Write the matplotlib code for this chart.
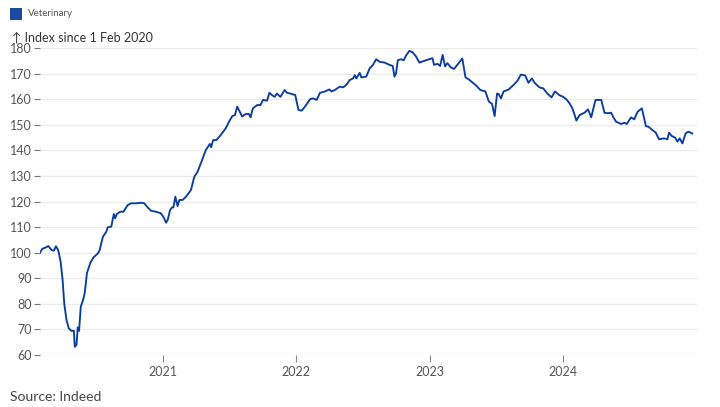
import matplotlib
matplotlib.use("Agg")
from matplotlib import pyplot as plt
import matplotlib.dates as mdates
import pandas as pd
import numpy as np

plt.rcParams['font.family'] = ['Lato', 'DejaVu Sans']

# decimal years, with index values (1 Feb 2020 = 100)
years = [
    2020.085, 2020.102, 2020.135, 2020.147, 2020.172, 2020.189, 2020.204, 2020.221,
    2020.239, 2020.254, 2020.266, 2020.283, 2020.300, 2020.321, 2020.338, 2020.345,
    2020.358, 2020.367, 2020.377, 2020.390, 2020.407, 2020.419, 2020.436, 2020.462,
    2020.486, 2020.518, 2020.531, 2020.555, 2020.581, 2020.592, 2020.618, 2020.637,
    2020.647, 2020.659, 2020.685, 2020.709, 2020.741, 2020.766, 2020.803, 2020.841,
    2020.865, 2020.890, 2020.915, 2020.952, 2020.989, 2021.006, 2021.026, 2021.038,
    2021.056, 2021.071, 2021.081, 2021.095, 2021.112, 2021.125, 2021.150, 2021.175,
    2021.194, 2021.212, 2021.237, 2021.261, 2021.286, 2021.323, 2021.353, 2021.363,
    2021.378, 2021.402, 2021.435, 2021.472, 2021.497, 2021.521, 2021.541, 2021.558,
    2021.595, 2021.621, 2021.645, 2021.658, 2021.675, 2021.707, 2021.732, 2021.751,
    2021.781, 2021.799, 2021.818, 2021.838, 2021.855, 2021.881, 2021.913, 2021.930,
    2021.955, 2021.992, 2022.017, 2022.041, 2022.066, 2022.104, 2022.128, 2022.153,
    2022.178, 2022.215, 2022.247, 2022.264, 2022.289, 2022.326, 2022.351, 2022.375,
    2022.401, 2022.425, 2022.438, 2022.450, 2022.475, 2022.487, 2022.524, 2022.549,
    2022.574, 2022.598, 2022.624, 2022.661, 2022.698, 2022.722, 2022.735, 2022.747,
    2022.760, 2022.784, 2022.804, 2022.821, 2022.847, 2022.871, 2022.896, 2022.921,
    2022.970, 2023.020, 2023.032, 2023.057, 2023.077, 2023.096, 2023.114, 2023.131,
    2023.156, 2023.181, 2023.205, 2023.243, 2023.267, 2023.292, 2023.341, 2023.378,
    2023.416, 2023.441, 2023.465, 2023.485, 2023.503, 2023.515, 2023.532, 2023.552,
    2023.590, 2023.627, 2023.656, 2023.681, 2023.713, 2023.738, 2023.763, 2023.787,
    2023.820, 2023.849, 2023.879, 2023.911, 2023.936, 2023.968, 2023.998, 2024.023,
    2024.047, 2024.067, 2024.084, 2024.097, 2024.121, 2024.158, 2024.184, 2024.208,
    2024.240, 2024.283, 2024.307, 2024.332, 2024.357, 2024.374, 2024.394, 2024.431,
    2024.456, 2024.474, 2024.506, 2024.530, 2024.555, 2024.587, 2024.617, 2024.637,
    2024.671, 2024.691, 2024.716, 2024.753, 2024.778, 2024.790, 2024.810, 2024.835,
    2024.853, 2024.870, 2024.890, 2024.914, 2024.934, 2024.964,
]
veterinary = [
    100, 101.5, 102.2, 102.6, 101, 100.8, 102.5, 101,
    96.5, 89.3, 80.2, 73.7, 70.4, 69.4, 69.5, 63.2,
    64, 70.8, 69.4, 78.9, 81.5, 84.1, 92, 96.1,
    98.2, 99.7, 101, 106.2, 108.2, 109.9, 110.2, 115.1,
    113.4, 115.1, 116, 116, 118.6, 119.3, 119.3, 119.5,
    119.3, 117.7, 116.4, 116, 115.4, 114, 111.7, 112.8,
    116.7, 117.7, 117.7, 121.9, 118.2, 120.6, 120.6, 121.9,
    123.2, 124.5, 129.7, 131.6, 134.9, 140.1, 142.5, 141.2,
    144, 144, 146, 148.6, 151.2, 153.4, 153.8, 157.1,
    153.2, 154.2, 154.2, 152.9, 156.4, 157.7, 157.7, 159.7,
    159.4, 162.5, 161.6, 160.9, 162.2, 160.9, 163.6, 162.5,
    162.2, 161.6, 155.8, 155.5, 157.1, 160, 160.3, 159.7,
    162.5, 163, 163.8, 163, 163.6, 164.9, 164.6, 165.6,
    167.5, 168.1, 169.4, 168.1, 170.3, 168.5, 168.8, 172,
    173.4, 175.6, 174.6, 174.3, 173.4, 173, 168.8, 170.1,
    175.2, 175.6, 175.2, 177, 178.9, 178.3, 176.7, 174.3,
    175.2, 176, 173.4, 173.8, 173, 177.3, 172.8, 174.1,
    172.5, 171.8, 173.4, 175.9, 168.5, 167.7, 165.6, 163.6,
    163, 159.1, 158.2, 153.4, 162.2, 162, 160.3, 163,
    163.8, 165.6, 167.2, 169.6, 169.3, 166.4, 168.1, 166.2,
    164.6, 164.2, 162.2, 160.7, 163, 161.6, 160.9, 159.9,
    158.3, 156.4, 153.8, 151.6, 153.8, 154.7, 156, 152.9,
    159.7, 159.7, 154.7, 154.5, 154.7, 152.9, 151.2, 150.3,
    150.8, 150.3, 152.9, 152.1, 155.1, 156.4, 149.5, 149.2,
    147.7, 146.9, 144.3, 144.7, 144.3, 146.9, 145.6, 145,
    143.4, 144.7, 142.7, 146.6, 147.3, 146.6,
]
y_ticks = [60, 70, 80, 90, 100, 110, 120, 130, 140, 150, 160, 170, 180]
x_ticks = ["2021-01-01", "2022-01-01", "2023-01-01", "2024-01-01"]


def to_date(y):
    yr = int(np.floor(y))
    start = pd.Timestamp(f"{yr}-01-01")
    return start + pd.Timedelta(days=(y - yr) * 365.25)


dates = [to_date(y) for y in years]

fig = plt.figure(figsize=(7.2, 4.07), dpi=100)
ax = fig.add_axes([40 / 720, 1 - 355 / 407, 657 / 720, 307 / 407])

ax.plot(dates, veterinary, color="#0a3d9e", lw=1.35, solid_joinstyle="round")

ax.set_ylim(60, 180)
ax.set_xlim(pd.Timestamp("2020-02-01"), pd.Timestamp("2024-12-31"))
ax.set_yticks(y_ticks)
ax.set_xticks([pd.Timestamp(t) for t in x_ticks])
ax.xaxis.set_major_formatter(mdates.DateFormatter("%Y"))

ax.grid(axis="y", color="#ececec", lw=1)
ax.set_axisbelow(True)
for s in ax.spines.values():
    s.set_visible(False)
ax.tick_params(axis="y", length=4, width=0.8, color="#777777", labelcolor="#555555",
               labelsize=9, pad=2)
ax.tick_params(axis="x", length=5, width=0.8, color="#888888", labelcolor="#555555",
               labelsize=9, pad=3, direction="out")

# legend box + label
fig.patches.append(plt.Rectangle((10 / 720, 1 - 20 / 407), 12 / 720, 12 / 407,
                                 transform=fig.transFigure, facecolor="#1c4ba6",
                                 edgecolor="none"))
fig.text(28 / 720, 1 - 14 / 407, "Veterinary", fontsize=7, color="#555555", va="center")
fig.text(12 / 720, 1 - 38 / 407, "↑ Index since 1 Feb 2020", fontsize=9,
         color="#333333", va="center")
fig.text(10 / 720, 1 - 397 / 407, "Source: Indeed", fontsize=10, color="#444444",
         va="center")

fig.savefig("out.png", dpi=100)
